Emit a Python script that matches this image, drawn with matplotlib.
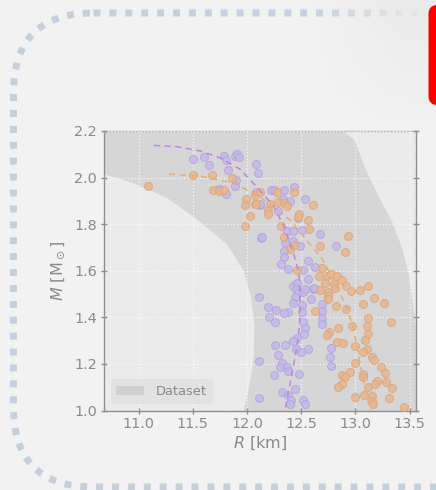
"""Neutron-star mass-radius plane: dataset envelope, sampled stars and two fitted tracks."""

from __future__ import annotations

import matplotlib

matplotlib.use("Agg")
import matplotlib.pyplot as plt
import numpy as np
from matplotlib.patches import FancyBboxPatch, Patch

# Envelope of the dataset; inner edge top -> bottom, outer edge bottom -> top
BAND_INNER_R = [10.50, 10.68, 10.95, 11.27, 11.57, 11.82, 11.97, 12.04, 12.07, 12.06, 12.02, 11.97, 11.94]
BAND_INNER_M = [2.03, 2.015, 1.976, 1.91, 1.81, 1.71, 1.60, 1.48, 1.36, 1.22, 1.10, 1.00, 0.95]
BAND_OUTER_R = [13.66, 13.61, 13.56, 13.53, 13.49, 13.43, 13.34, 13.21, 13.09, 13.00, 12.89, 12.84]
BAND_OUTER_M = [0.95, 1.15, 1.35, 1.47, 1.59, 1.70, 1.81, 1.925, 2.04, 2.157, 2.20, 2.25]

# Purple sample
PURPLE_R = [
    11.50, 11.60, 11.65, 11.79, 11.81, 11.89, 11.91, 11.93, 11.82, 11.90, 11.89, 11.81, 11.74, 12.08, 12.10,
    12.08, 12.12, 12.13, 12.22, 12.25, 12.34, 12.43, 12.33, 12.40, 12.12, 12.54, 12.29, 12.47, 12.14, 12.37,
    12.42, 12.51, 12.35, 12.42, 12.49, 12.67, 12.82, 12.34, 12.34, 12.31, 12.38, 12.52, 12.56, 12.63,
    12.11, 12.42, 12.46, 12.45, 12.47, 12.44, 12.52, 12.54, 12.56, 12.61, 12.62, 12.59, 12.42, 12.51, 12.51,
    12.38, 12.34, 12.27, 12.19, 12.20, 12.26, 12.52, 12.54, 12.53, 12.69, 12.69, 12.69, 12.69, 12.46, 12.42,
    12.35, 12.26, 12.56, 12.45, 12.50, 12.29, 12.11, 12.32, 12.30, 12.37, 12.38, 12.25, 12.48, 12.78, 12.77,
    12.78, 12.44, 12.32, 12.38, 12.11, 12.41, 12.40, 12.52, 12.54,
]
PURPLE_M = [
    2.080, 2.088, 2.053, 2.093, 2.077, 2.093, 2.100, 2.090, 2.032, 1.990, 1.962, 1.928, 1.950, 2.060, 2.018,
    1.940, 1.883, 1.740, 1.945, 1.945, 1.946, 1.960, 1.909, 1.898, 1.887, 1.910, 1.857, 1.826, 1.743, 1.771,
    1.770, 1.774, 1.718, 1.728, 1.708, 1.757, 1.708, 1.684, 1.661, 1.627, 1.606, 1.605, 1.641, 1.616,
    1.489, 1.536, 1.546, 1.522, 1.503, 1.489, 1.510, 1.522, 1.565, 1.522, 1.528, 1.479, 1.460, 1.453, 1.424,
    1.424, 1.417, 1.431, 1.443, 1.400, 1.378, 1.378, 1.356, 1.327, 1.456, 1.429, 1.398, 1.370, 1.313, 1.298,
    1.281, 1.281, 1.262, 1.262, 1.252, 1.238, 1.212, 1.205, 1.188, 1.188, 1.170, 1.152, 1.155, 1.267, 1.231,
    1.192, 1.092, 1.080, 1.066, 1.055, 1.043, 1.030, 1.044, 1.026,
]

# Orange sample
ORANGE_R = [
    11.09, 11.50, 11.68, 11.86, 11.69, 11.74, 11.79, 11.99, 11.98, 12.07, 12.03, 11.98, 12.07,
    12.12, 12.28, 12.43, 12.08, 12.21, 12.29, 12.34, 12.37, 12.19, 12.19, 12.61, 12.48, 12.47, 12.56, 12.57,
    12.31, 12.34, 12.43, 12.40, 12.67, 12.93, 12.90, 12.69, 12.46,
    12.66, 12.74, 12.78, 12.83, 12.88, 12.91, 12.72, 12.80, 12.81, 12.67, 12.75, 12.75, 12.75, 12.96, 13.04,
    13.12, 13.17, 13.26, 13.07, 12.82, 12.91, 12.63, 13.12, 13.33, 12.97, 13.11, 12.84, 12.76, 13.12, 12.74,
    13.09, 12.83, 12.89, 13.00, 13.11, 13.07, 13.15, 13.17, 13.00, 12.95, 13.24, 13.27, 12.88, 12.90, 13.07,
    13.07, 13.20, 13.28, 12.88, 12.84, 13.12, 13.18, 13.34, 13.00, 13.08, 13.15, 13.15, 13.16, 13.31, 13.45,
]
ORANGE_M = [
    1.966, 2.010, 2.010, 2.000, 1.948, 1.942, 1.946, 1.909, 1.882, 1.885, 1.833, 1.790, 1.926,
    1.940, 1.938, 1.936, 1.886, 1.886, 1.895, 1.890, 1.879, 1.859, 1.842, 1.883, 1.843, 1.831, 1.817, 1.778,
    1.790, 1.744, 1.710, 1.694, 1.708, 1.750, 1.681, 1.611, 1.603,
    1.579, 1.579, 1.585, 1.579, 1.560, 1.536, 1.546, 1.542, 1.528, 1.517, 1.508, 1.493, 1.479, 1.515, 1.517,
    1.536, 1.485, 1.463, 1.456, 1.450, 1.436, 1.429, 1.396, 1.382, 1.364, 1.364, 1.356, 1.339, 1.328, 1.324,
    1.302, 1.295, 1.291, 1.277, 1.262, 1.252, 1.231, 1.216, 1.202, 1.166, 1.185, 1.159, 1.152, 1.142, 1.155,
    1.142, 1.126, 1.124, 1.113, 1.099, 1.102, 1.113, 1.095, 1.060, 1.066, 1.062, 1.042, 1.030, 1.055, 1.014,
]

# Dashed mass-radius tracks
PURPLE_TRACK_R = [11.14, 11.35, 11.57, 11.75, 11.94, 12.09, 12.25, 12.34, 12.43, 12.48, 12.49, 12.49, 12.47, 12.44, 12.40, 12.35]
PURPLE_TRACK_M = [2.138, 2.133, 2.114, 2.085, 2.035, 1.960, 1.875, 1.790, 1.674, 1.588, 1.500, 1.400, 1.300, 1.220, 1.120, 1.000]
ORANGE_TRACK_R = [11.28, 11.57, 11.88, 12.12, 12.25, 12.40, 12.55, 12.68, 12.75, 12.80, 12.92, 12.98, 13.05, 13.11, 13.14]
ORANGE_TRACK_M = [2.015, 2.006, 1.976, 1.917, 1.872, 1.817, 1.731, 1.660, 1.602, 1.559, 1.444, 1.358, 1.186, 1.057, 1.000]

X_TICKS = [11.0, 11.5, 12.0, 12.5, 13.0, 13.5]
Y_TICKS = [1.0, 1.2, 1.4, 1.6, 1.8, 2.0, 2.2]

PAGE_BG = "#f2f2f2"
AXES_BG = "#ebebeb"
BAND_COLOR = "#d6d6d6"
TEXT_COLOR = "#8a8a8a"
SPINE_COLOR = "#8f8f8f"
BORDER_COLOR = "#c5d0dc"


def draw_page(fig: plt.Figure) -> None:
    """Dotted rounded frame, corner tab and the soft shading at the top right."""

    bg = fig.add_axes([0, 0, 1, 1])
    bg.set_xlim(0, 436)
    bg.set_ylim(490, 0)
    bg.axis("off")

    frame = FancyBboxPatch(
        (13.5, 13), 520, 474,
        boxstyle="round,pad=0,rounding_size=80",
        facecolor="none", edgecolor=BORDER_COLOR,
        linewidth=5.0, linestyle=(0, (1, 1.29)),
    )
    frame.set_capstyle("butt")
    bg.add_patch(frame)

    # haze over the upper right corner
    ramp = np.clip((np.linspace(0, 1, 200) - 0.3) / 0.55, 0, 1)
    vert = np.clip(1.0 - np.linspace(0, 1, 100) * 0.9, 0, 1)
    alpha = np.outer(vert, ramp) * 0.95
    haze = np.zeros((100, 200, 4))
    haze[..., :3] = np.array([234, 234, 234]) / 255.0
    haze[..., 3] = alpha
    bg.imshow(haze, extent=(250, 436, 125, 0), aspect="auto", zorder=3, interpolation="bilinear")

    tab = FancyBboxPatch(
        (428.5, 5), 30, 100,
        boxstyle="round,pad=0,rounding_size=9",
        facecolor="#ff0000", edgecolor="none", zorder=4,
    )
    bg.add_patch(tab)


def draw_chart(fig: plt.Figure) -> None:
    """Mass-radius panel with the dataset envelope."""

    ax = fig.add_axes([104 / 436, 1 - 410.5 / 490, 312 / 436, 279.5 / 490])
    ax.set_facecolor(AXES_BG)

    band_r = [10.50] + BAND_INNER_R + BAND_OUTER_R
    band_m = [2.30] + BAND_INNER_M + BAND_OUTER_M
    ax.fill(band_r, band_m, color=BAND_COLOR, linewidth=0, zorder=1)

    ax.grid(True, color="white", linestyle=":", linewidth=0.9, alpha=0.8, zorder=2)
    ax.set_axisbelow(False)

    ax.scatter(PURPLE_R, PURPLE_M, s=33, facecolor="#c4b8ea", edgecolor="#b0a4da",
               linewidth=0.7, alpha=0.85, zorder=3)
    ax.scatter(ORANGE_R, ORANGE_M, s=33, facecolor="#eab68c", edgecolor="#d9a67e",
               linewidth=0.7, alpha=0.85, zorder=3)

    ax.plot(PURPLE_TRACK_R, PURPLE_TRACK_M, color="#c283e2", linewidth=1.1,
            linestyle=(0, (4, 3)), zorder=4)
    ax.plot(ORANGE_TRACK_R, ORANGE_TRACK_M, color="#e9ac74", linewidth=1.1,
            linestyle=(0, (4, 3)), zorder=4)

    ax.set_xlim(10.68, 13.56)
    ax.set_ylim(1.0, 2.2)
    ax.set_xticks(X_TICKS)
    ax.set_yticks(Y_TICKS)
    ax.set_xticklabels([f"{v:.1f}" for v in X_TICKS])
    ax.set_yticklabels([f"{v:.1f}" for v in Y_TICKS])
    ax.tick_params(axis="both", colors=SPINE_COLOR, labelcolor=TEXT_COLOR, labelsize=10.4,
                   direction="inout", length=4, width=1.0, pad=3)
    ax.tick_params(axis="y", right=True)

    for side, spine in ax.spines.items():
        spine.set_color("#b8b8b8" if side == "top" else SPINE_COLOR)
        spine.set_linewidth(1.0)

    ax.set_xlabel("$R$ [km]", color=TEXT_COLOR, fontsize=11.5, labelpad=2)
    ax.set_ylabel(r"$M$ [M$_\odot$]", color=TEXT_COLOR, fontsize=11.5, labelpad=5)

    handle = Patch(facecolor="#d0d0d0", edgecolor="none", label="Dataset")
    legend = ax.legend(handles=[handle], loc="lower left", fontsize=9.4, frameon=True,
                       facecolor="#e2e2e2", edgecolor="none", framealpha=1.0,
                       handlelength=2.15, handleheight=0.77, borderaxespad=0.5,
                       borderpad=0.45, handletextpad=0.85)
    for text in legend.get_texts():
        text.set_color(TEXT_COLOR)
    legend.set_zorder(6)


def main() -> None:
    """Render the panel to out.png."""

    fig = plt.figure(figsize=(4.36, 4.9), dpi=100, facecolor=PAGE_BG)
    draw_page(fig)
    draw_chart(fig)
    fig.savefig("out.png", dpi=100, facecolor=PAGE_BG)
    plt.close(fig)


if __name__ == "__main__":
    main()
